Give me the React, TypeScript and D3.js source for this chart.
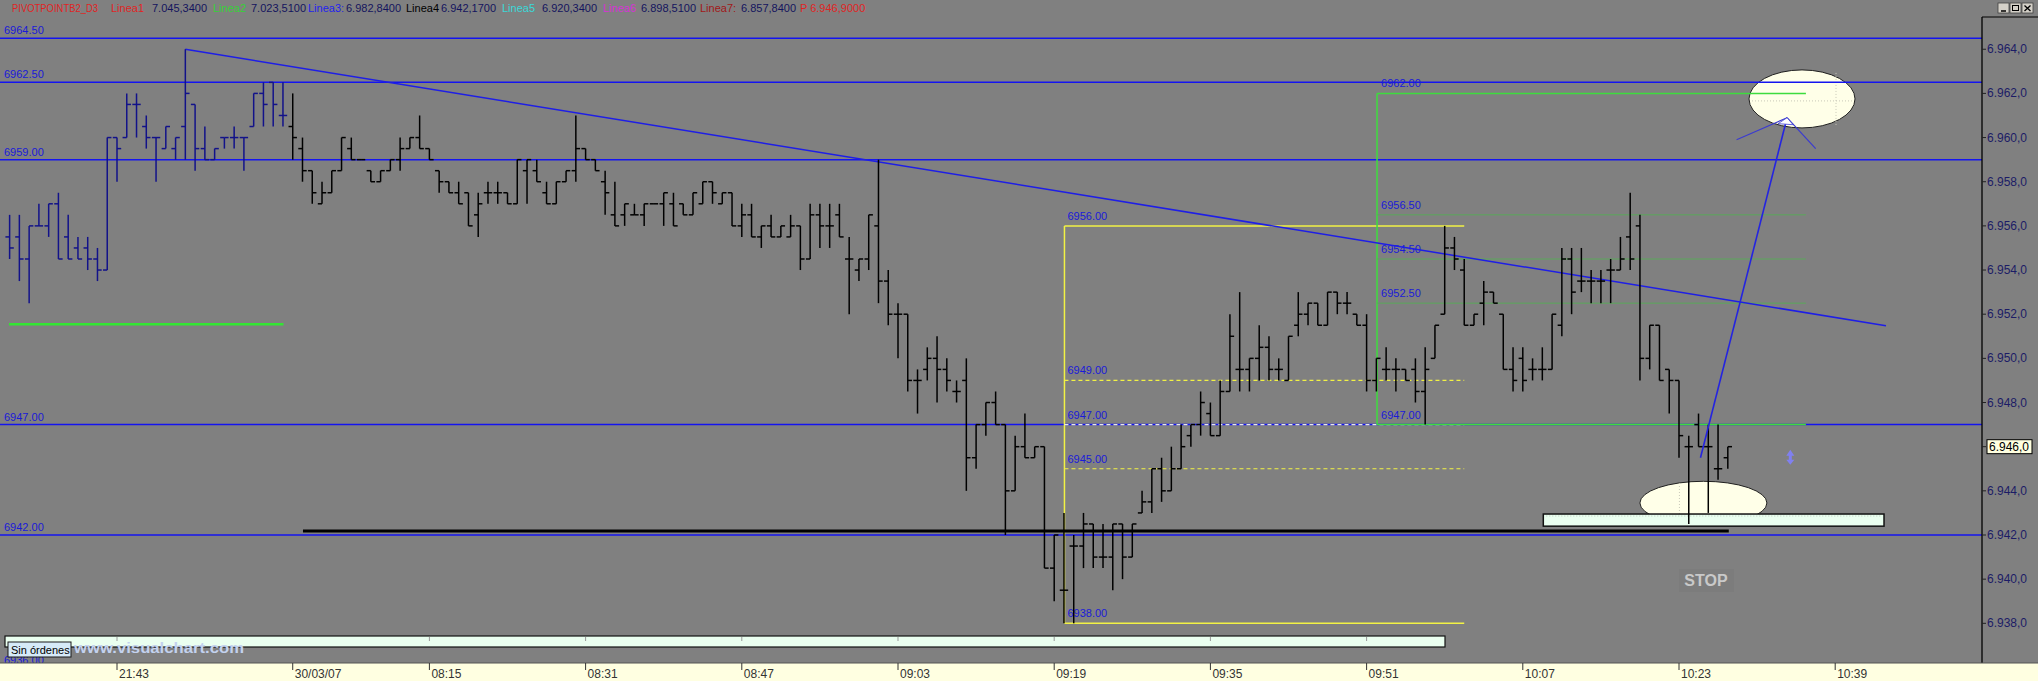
import React from "react";
import * as d3 from "d3";

// ---------- DATA ----------
const FIRST_INDEX = -11; // bar index of first bar (index 0 = 21:43)
const SESSION_BREAK = 18; // first bar of 30/03/07
const opens = [
  6955.5, 6955.5, 6954.5, 6956, 6956, 6957, 6955.5, 6955, 6955, 6954.5, 6954,
  6960, 6960, 6961.5, 6960.5, 6960, 6959.5, 6959.5, 6960.5, 6961.5, 6959.5, 6959,
  6960, 6960, 6960, 6960.5, 6962, 6962.5, 6961, 6960.5, 6959.5, 6958.5, 6957,
  6957.5, 6958.5, 6959.5, 6959, 6958.5, 6958, 6958.5, 6959, 6959.5, 6960, 6959.5,
  6958.5, 6958, 6957.5, 6957.5, 6956.5, 6957.5, 6957.5, 6957.5, 6957, 6958.5, 6958.5,
  6957.5, 6957, 6958, 6958.5, 6959.5, 6959, 6958, 6956.5, 6956.5, 6956.5, 6956.5,
  6957, 6957, 6957, 6957, 6956.5,
  6957, 6958, 6957, 6957.5, 6956, 6956.5, 6955.5, 6956, 6955.5, 6955.5, 6956,
  6954.5, 6956.5, 6956, 6956.5, 6954.5, 6954, 6954.5, 6956, 6953.5, 6952, 6952,
  6949, 6949.5, 6950, 6949.5, 6948.5, 6949, 6945.5, 6947, 6948, 6947, 6944,
  6946, 6945.5, 6946, 6940.5, 6939.5, 6941.5, 6941.5, 6942.5, 6941, 6941, 6942.5,
  6941, 6943, 6943.5, 6945, 6944, 6945, 6946.5, 6947, 6947.5, 6946.5, 6948.5,
  6949.5, 6949.5, 6950, 6950.5, 6949.5, 6949, 6951.5, 6952, 6952.5, 6951.5, 6953,
  6952.5, 6952, 6951.5, 6949, 6949.5, 6949.5, 6949.5, 6949.5, 6948.5, 6950, 6952,
  6955, 6954, 6951.5, 6952.5, 6953, 6952, 6949.5, 6950, 6949.5, 6949.5, 6949.5,
  6951.5, 6954.5, 6953.5, 6953.5, 6953.5, 6954, 6954, 6955.5, 6956, 6950, 6951.5,
  6949.5, 6949, 6946, 6947, 6946, 6945, 6945.5,
];
const highs = [
  6956.5, 6956.5, 6956, 6957, 6957, 6957.5, 6956.5, 6955.5, 6955.5, 6955, 6960,
  6960, 6962, 6962, 6961, 6960, 6960.5, 6960, 6964, 6961.5, 6960.5, 6959.5,
  6960, 6960.5, 6960, 6962, 6962.5, 6962.5, 6962.5, 6962, 6960, 6958.5, 6958,
  6958.5, 6960, 6960, 6959, 6958.5, 6958.5, 6959, 6960, 6960, 6961, 6959.5,
  6958.5, 6958, 6958, 6957.5, 6957.5, 6958, 6958, 6957.5, 6959, 6959, 6959,
  6958, 6958, 6958.5, 6961, 6959.5, 6959, 6958.5, 6958, 6957, 6957, 6957,
  6957, 6957.5, 6957.5, 6957, 6957.5,
  6958, 6958, 6957.5, 6957.5, 6957, 6957, 6956, 6956.5, 6956, 6956.5, 6956,
  6957, 6957, 6957, 6957, 6955.5, 6954.5, 6956.5, 6959, 6954, 6952.5, 6952,
  6949.5, 6950.5, 6951, 6950, 6949, 6950, 6947, 6948, 6948.5, 6947, 6946.5,
  6947.5, 6946, 6946, 6942, 6943, 6942, 6943, 6942.5, 6942.5, 6942.5, 6942.5,
  6942.5, 6944, 6945, 6945.5, 6946, 6947, 6947, 6948.5, 6948, 6949, 6952,
  6953, 6950, 6951.5, 6951, 6950, 6951, 6953, 6952.5, 6952.5, 6953, 6953,
  6953, 6952, 6952, 6950, 6950.5, 6950, 6949.5, 6950, 6950.5, 6951.5, 6956,
  6955.5, 6954.5, 6952, 6953.5, 6953, 6952, 6950.5, 6950.5, 6950, 6950.5, 6952,
  6955, 6955, 6955, 6954, 6954, 6954.5, 6955.5, 6957.5, 6956.5, 6951.5, 6951.5,
  6949.5, 6949, 6946.5, 6947.5, 6947, 6947, 6946,
];
const lows = [
  6954.5, 6953.5, 6952.5, 6956, 6955.5, 6954.5, 6954.5, 6954.5, 6954, 6953.5, 6954,
  6958, 6960, 6960, 6959.5, 6958, 6959.5, 6959, 6959, 6958.5, 6959, 6959,
  6959.5, 6959.5, 6958.5, 6960.5, 6960.5, 6960.5, 6960.5, 6959, 6958, 6957, 6957,
  6957.5, 6958.5, 6959, 6959, 6958, 6958, 6958.5, 6958.5, 6959.5, 6959.5, 6959,
  6957.5, 6957.5, 6957, 6956, 6955.5, 6957, 6957, 6957, 6957, 6957, 6958,
  6957, 6957, 6958, 6958, 6959, 6958.5, 6956.5, 6956, 6956, 6956.5, 6956,
  6957, 6956, 6956, 6956.5, 6956.5,
  6957, 6957, 6957, 6956, 6955.5, 6955.5, 6955, 6955.5, 6955.5, 6955.5, 6954,
  6954.5, 6955, 6955, 6955.5, 6952, 6953.5, 6954, 6952.5, 6951.5, 6950, 6948.5,
  6947.5, 6949, 6948, 6948.5, 6948, 6944, 6945, 6946.5, 6947, 6942, 6944,
  6945.5, 6945.5, 6940.5, 6939, 6938, 6938, 6940.5, 6940.5, 6940.5, 6939.5, 6940,
  6941, 6943, 6943, 6943.5, 6944, 6945, 6946, 6946.5, 6946.5, 6946.5, 6948.5,
  6948.5, 6948.5, 6949, 6949, 6949, 6949, 6951, 6951.5, 6951.5, 6951.5, 6952,
  6952, 6951.5, 6948.5, 6948.5, 6949, 6948.5, 6949, 6948, 6947, 6950, 6952,
  6954, 6951.5, 6951.5, 6951.5, 6952.5, 6949.5, 6948.5, 6948.5, 6949, 6949, 6949.5,
  6951, 6952, 6953, 6952.5, 6952.5, 6952.5, 6954, 6954, 6949, 6949.5, 6949,
  6947.5, 6945.5, 6942.5, 6946, 6943, 6944.5, 6945,
];
const closes = [
  6955, 6954.5, 6956, 6956, 6957, 6954.5, 6954.5, 6954.5, 6954.5, 6954, 6960,
  6959.5, 6961.5, 6961.5, 6960, 6960, 6960.5, 6960, 6962, 6959.5, 6959, 6959.5,
  6960, 6960, 6960, 6962, 6961.5, 6961.5, 6961, 6960, 6958.5, 6957.5, 6957.5,
  6958.5, 6960, 6959, 6959, 6958, 6958.5, 6959, 6959.5, 6960, 6959.5, 6959,
  6958, 6957.5, 6957, 6956, 6957, 6957.5, 6957.5, 6957, 6959, 6959, 6958,
  6957, 6958, 6958.5, 6959.5, 6959, 6958.5, 6957.5, 6956, 6957, 6956.5, 6957,
  6957, 6957.5, 6956, 6956.5, 6957.5,
  6958, 6957.5, 6957.5, 6956, 6956.5, 6955.5, 6956, 6955.5, 6956, 6956, 6954.5,
  6956.5, 6956, 6956, 6955.5, 6954.5, 6954.5, 6956.5, 6953.5, 6952, 6952, 6949,
  6949, 6950, 6949.5, 6949, 6948.5, 6945.5, 6947, 6948, 6947, 6944, 6946,
  6945.5, 6946, 6940.5, 6942, 6939.5, 6941.5, 6942.5, 6941, 6941, 6942.5, 6941,
  6942.5, 6943.5, 6945, 6944, 6945, 6946, 6947, 6948, 6946.5, 6948.5, 6951,
  6949.5, 6950, 6950.5, 6949.5, 6949.5, 6951, 6952, 6952.5, 6951.5, 6953, 6952.5,
  6952.5, 6951.5, 6949, 6950, 6949.5, 6949.5, 6949, 6948.5, 6949.5, 6951.5, 6955,
  6954.5, 6951.5, 6952, 6953, 6952.5, 6949.5, 6949, 6949, 6949.5, 6949.5, 6952,
  6954.5, 6953, 6953.5, 6953.5, 6953.5, 6954, 6954.5, 6954.5, 6950, 6951.5, 6949,
  6949, 6946.5, 6946, 6946, 6946, 6945, 6946,
];

const timeTickIndex = [0, 18, 32, 48, 64, 80, 96, 112, 128, 144, 160, 176];
const timeTickLabels = ["21:43", "30/03/07", "08:15", "08:31", "08:47", "09:03", "09:19", "09:35", "09:51", "10:07", "10:23", "10:39"];
const priceTicks = [6938, 6940, 6942, 6944, 6946, 6948, 6950, 6952, 6954, 6956, 6958, 6960, 6962, 6964];
const lastPrice = 6946;

const blueLevels = [6964.5, 6962.5, 6959, 6947, 6942];
const yellowLevels = [6956, 6949, 6947, 6945, 6938];
const yellowStyles = ["solid", "dashY", "dashW", "dashY", "solid"];
const greenLevels = [6962, 6956.5, 6954.5, 6952.5, 6947];

const header = [
  { t: "PIVOTPOINTB2_D3", c: "#e02424", x: 12, w: 86 },
  { t: "Linea1", c: "#e02424", x: 111, w: 0 },
  { t: "7.045,3400", c: "#14145e", x: 152, w: 0 },
  { t: "Linea2", c: "#36d236", x: 213, w: 0 },
  { t: "7.023,5100", c: "#14145e", x: 251, w: 0 },
  { t: "Linea3:", c: "#2323ee", x: 308, w: 0 },
  { t: "6.982,8400", c: "#14145e", x: 346, w: 0 },
  { t: "Linea4", c: "#000000", x: 406, w: 0 },
  { t: "6.942,1700", c: "#14145e", x: 441, w: 0 },
  { t: "Linea5", c: "#3ad8d8", x: 502, w: 0 },
  { t: "6.920,3400", c: "#14145e", x: 542, w: 0 },
  { t: "Linea6", c: "#d830d8", x: 603, w: 0 },
  { t: "6.898,5100", c: "#14145e", x: 641, w: 0 },
  { t: "Linea7:", c: "#a01818", x: 700, w: 0 },
  { t: "6.857,8400", c: "#14145e", x: 741, w: 0 },
  { t: "P 6.946,9000", c: "#e02424", x: 800, w: 0 },
];

// ---------- LAYOUT ----------
const W = 2038;
const H = 681;
const PLOT_RIGHT = 1982;
const PLOT_TOP = 17;
const AXIS_TOP = 663;
const BG = "#808080";

const x = d3.scaleLinear().domain([0, 16]).range([117, 117 + 156.2]);
const y = d3.scaleLinear().domain([6942, 6964]).range([535, 49.24]);

const loc = d3.formatLocale({ decimal: ",", thousands: ".", grouping: [3], currency: ["", ""] });
const fmtAxis = loc.format(",.1f");
const fmtLevel = d3.format(".2f");

const bars = opens.map((o, k) => ({
  i: FIRST_INDEX + k,
  o,
  h: highs[k],
  l: lows[k],
  c: closes[k],
}));

export default function App() {
  const font = "'Liberation Sans', Arial, sans-serif";
  const tick = 4.2;
  const yf = yellowLevels;
  const gf = greenLevels;
  const yx0 = x(97.05);
  const yx1 = x(138);
  const gx0 = x(129.07);
  const gx1 = x(173);

  // annotation positions in data units
  const trend = { i0: 7, p0: 6964, i1: 181.2, p1: 6951.48 };
  const arrow = { i0: 162.2, p0: 6945.5, i1: 171.07, p1: 6960.9 };
  const headL = { i: 165.9, p: 6959.9 };
  const headR = { i: 174.0, p: 6959.5 };
  const topEll = { i: 172.6, p: 6961.75 };
  const botEll = { i: 162.5, p: 6943.45 };
  const mint = { i0: 146.1, i1: 181, p0: 6942.95, p1: 6942.4 };
  const mk = { i: 171.4, p: 6945.5 };

  return (
    <svg width={W} height={H} style={{ position: "fixed", left: 0, top: 0, display: "block" }} fontFamily={font}>
      <rect x={0} y={0} width={W} height={H} fill={BG} />

      {/* header */}
      {header.map((h, k) => (
        <text
          key={k}
          x={h.x}
          y={12}
          fontSize={11}
          fill={h.c}
          textLength={h.w > 0 ? h.w : undefined}
          lengthAdjust={h.w > 0 ? "spacingAndGlyphs" : undefined}
        >
          {h.t}
        </text>
      ))}
      {[0, 1, 2].map((k) => (
        <g key={k}>
          <rect x={1998 + k * 12} y={3} width={11} height={10} fill="#d4d0c8" stroke="#404040" strokeWidth={0.8} />
        </g>
      ))}
      <line x1={2001} y1={11} x2={2006} y2={11} stroke="#000" strokeWidth={1.5} />
      <rect x={2012.5} y={5.5} width={6} height={5} fill="none" stroke="#000" strokeWidth={1} />
      <path d="M2024.5,5.5 L2030.5,11 M2030.5,5.5 L2024.5,11" stroke="#000" strokeWidth={1.3} />

      {/* ellipses & mint strip (behind lines) */}
      <ellipse cx={x(topEll.i)} cy={y(topEll.p)} rx={53} ry={29} fill="#ffffe8" stroke="#202020" strokeWidth={1} />
      <line x1={x(topEll.i) - 50} x2={x(topEll.i) + 52} y1={y(topEll.p) + 2} y2={y(topEll.p) + 2} stroke="#c8c8b8" strokeDasharray="1,2" />
      <line x1={x(topEll.i) + 34} x2={x(topEll.i) + 34} y1={y(topEll.p) - 26} y2={y(topEll.p) + 26} stroke="#c8c8b8" strokeDasharray="1,2" />
      <ellipse cx={x(botEll.i)} cy={y(botEll.p)} rx={63.5} ry={21.7} fill="#ffffe8" stroke="#202020" strokeWidth={1} />
      <line x1={x(botEll.i) - 24} x2={x(botEll.i) - 24} y1={y(botEll.p) - 20} y2={y(botEll.p) + 20} stroke="#c8c8b8" strokeDasharray="1,2" />
      <rect x={x(mint.i0)} y={y(mint.p0)} width={x(mint.i1) - x(mint.i0)} height={y(mint.p1) - y(mint.p0)} fill="#eafff0" stroke="#111" strokeWidth={1.5} />
      <line x1={x(mint.i0) + 3} x2={x(mint.i1) - 3} y1={y(mint.p0) + 2} y2={y(mint.p0) + 2} stroke="#b8c8b8" strokeDasharray="1,2" />

      {/* blue horizontal levels */}
      {blueLevels.map((v) => (
        <g key={v}>
          <line x1={0} x2={PLOT_RIGHT} y1={y(v)} y2={y(v)} stroke="#1414f0" strokeWidth={1.5} />
          <text x={4} y={y(v) - 4} fontSize={11} fill="#1a1ad8">
            {fmtLevel(v)}
          </text>
        </g>
      ))}
      <text x={4} y={664} fontSize={11} fill="#1a1ad8">{fmtLevel(6936)}</text>

      {/* yellow fibonacci box */}
      <line x1={yx0} x2={yx0} y1={y(yf[0])} y2={y(yf[4])} stroke="#f2f244" strokeWidth={1.5} />
      {yf.map((v, k) => (
        <g key={"y" + v}>
          <line
            x1={yx0}
            x2={yx1}
            y1={y(v)}
            y2={y(v)}
            stroke={yellowStyles[k] === "dashW" ? "#e8e8e8" : "#f2f244"}
            strokeWidth={yellowStyles[k] === "solid" ? 1.5 : 1.2}
            strokeDasharray={yellowStyles[k] === "solid" ? undefined : "4,3"}
          />
          <text x={yx0 + 3} y={y(v) - 6} fontSize={11} fill="#1a1ad8">
            {fmtLevel(v)}
          </text>
        </g>
      ))}

      {/* green fibonacci box */}
      <line x1={gx0} x2={gx0} y1={y(gf[0])} y2={y(gf[4])} stroke="#3ddc3d" strokeWidth={1.5} />
      {gf.map((v, k) => (
        <g key={"g" + v}>
          <line
            x1={gx0}
            x2={gx1}
            y1={y(v)}
            y2={y(v)}
            stroke={k === 0 || k === 4 ? "#3ddc3d" : "#5aa85a"}
            strokeWidth={k === 0 || k === 4 ? 1.5 : 1}
          />
          <text x={gx0 + 4} y={y(v) - 6} fontSize={11} fill="#1a1ad8">
            {fmtLevel(v)}
          </text>
        </g>
      ))}

      {/* short green line on the left */}
      <line x1={x(-11.06)} x2={x(17.05)} y1={y(6951.54)} y2={y(6951.54)} stroke="#33e633" strokeWidth={2.5} />

      {/* black support line */}
      <line x1={x(19.05)} x2={x(165.1)} y1={y(6942.18)} y2={y(6942.18)} stroke="#000" strokeWidth={3} />

      {/* trendline */}
      <line x1={x(trend.i0)} y1={y(trend.p0)} x2={x(trend.i1)} y2={y(trend.p1)} stroke="#1e1ee6" strokeWidth={1.5} />

      {/* OHLC bars */}
      {bars.map((b) => {
        const cx = x(b.i);
        const col = b.i < SESSION_BREAK ? "#12128a" : "#000000";
        return (
          <g key={b.i} stroke={col} strokeWidth={1.5}>
            <line x1={cx} x2={cx} y1={y(b.h)} y2={y(b.l)} />
            <line x1={cx - tick} x2={cx} y1={y(b.o)} y2={y(b.o)} />
            <line x1={cx} x2={cx + tick} y1={y(b.c)} y2={y(b.c)} />
          </g>
        );
      })}

      {/* target arrow */}
      <line x1={x(arrow.i0)} y1={y(arrow.p0)} x2={x(arrow.i1)} y2={y(arrow.p1)} stroke="#2424e0" strokeWidth={1.6} />
      <line x1={x(arrow.i1)} y1={y(arrow.p1)} x2={x(headL.i)} y2={y(headL.p)} stroke="#3a3ad0" strokeWidth={1.2} />
      <line x1={x(arrow.i1)} y1={y(arrow.p1)} x2={x(headR.i)} y2={y(headR.p)} stroke="#3a3ad0" strokeWidth={1.2} />
      <polygon
        points={`${x(arrow.i1)},${y(arrow.p1)} ${x(arrow.i1) - 9},${y(arrow.p1) + 6} ${x(arrow.i1) + 6},${y(arrow.p1) + 7}`}
        fill="#ffffff"
        stroke="#3a3ad0"
        strokeWidth={0.8}
      />

      {/* small marker */}
      <path
        d={`M${x(mk.i)},${y(mk.p) - 8} L${x(mk.i) + 4},${y(mk.p) - 2} L${x(mk.i) + 1.5},${y(mk.p) - 2} L${x(mk.i) + 1.5},${y(mk.p) + 2} L${x(mk.i) + 4},${y(mk.p) + 2} L${x(mk.i)},${y(mk.p) + 7} L${x(mk.i) - 4},${y(mk.p) + 2} L${x(mk.i) - 1.5},${y(mk.p) + 2} L${x(mk.i) - 1.5},${y(mk.p) - 2} L${x(mk.i) - 4},${y(mk.p) - 2} Z`}
        fill="#8080f0"
      />

      {/* STOP */}
      <rect x={1679} y={569} width={55} height={23} fill="#7c7c7c" />
      <text x={1706} y={586} fontSize={16} fontWeight="bold" fill="#c9c9c9" textAnchor="middle">
        STOP
      </text>

      {/* orders strip */}
      <rect x={5} y={636} width={1440} height={11} fill="#eafff0" stroke="#111" strokeWidth={1.2} />
      {timeTickIndex.filter((t) => t !== SESSION_BREAK && x(t) < 1445).map((t) => (
        <line key={"os" + t} x1={x(t)} x2={x(t)} y1={637} y2={641} stroke="#999" strokeWidth={1} />
      ))}
      <rect x={8} y={642} width={63} height={15} fill="#d6eaf8" stroke="#1a1a1a" strokeWidth={1} />
      <text x={11} y={654} fontSize={11} fill="#000">
        Sin órdenes
      </text>
      <text x={74} y={653} fontSize={14} fontWeight="bold" fill="#c3d2ee" textLength={170} lengthAdjust="spacingAndGlyphs">
        www.visualchart.com
      </text>

      {/* right axis */}
      <line x1={PLOT_RIGHT} x2={PLOT_RIGHT} y1={PLOT_TOP} y2={AXIS_TOP} stroke="#000" strokeWidth={1.3} />
      <line x1={PLOT_RIGHT} x2={W} y1={PLOT_TOP} y2={PLOT_TOP} stroke="#000" strokeWidth={1} />
      {priceTicks.map((v) => (
        <g key={"pt" + v}>
          <line x1={PLOT_RIGHT} x2={PLOT_RIGHT + 4} y1={y(v)} y2={y(v)} stroke="#222" strokeWidth={1} />
          {v !== lastPrice && (
            <text x={PLOT_RIGHT + 5} y={y(v) + 4} fontSize={12} fill="#1c1c66">
              {fmtAxis(v)}
            </text>
          )}
        </g>
      ))}
      <rect x={PLOT_RIGHT + 5} y={y(lastPrice) - 7} width={45} height={14} fill="#ffffe0" stroke="#000" strokeWidth={1} />
      <text x={PLOT_RIGHT + 7} y={y(lastPrice) + 4.5} fontSize={12} fill="#000">
        {fmtAxis(lastPrice)}
      </text>

      {/* bottom time axis */}
      <rect x={0} y={AXIS_TOP} width={W} height={H - AXIS_TOP} fill="#ffffe1" />
      <line x1={0} x2={W} y1={AXIS_TOP} y2={AXIS_TOP} stroke="#555" strokeWidth={1} />
      {timeTickIndex.map((t, k) => (
        <g key={"tt" + t}>
          <line x1={x(t)} x2={x(t)} y1={AXIS_TOP} y2={AXIS_TOP + 7} stroke="#333" strokeWidth={1} />
          <text x={x(t) + 2} y={678} fontSize={12} fill="#333">
            {timeTickLabels[k]}
          </text>
        </g>
      ))}
    </svg>
  );
}
